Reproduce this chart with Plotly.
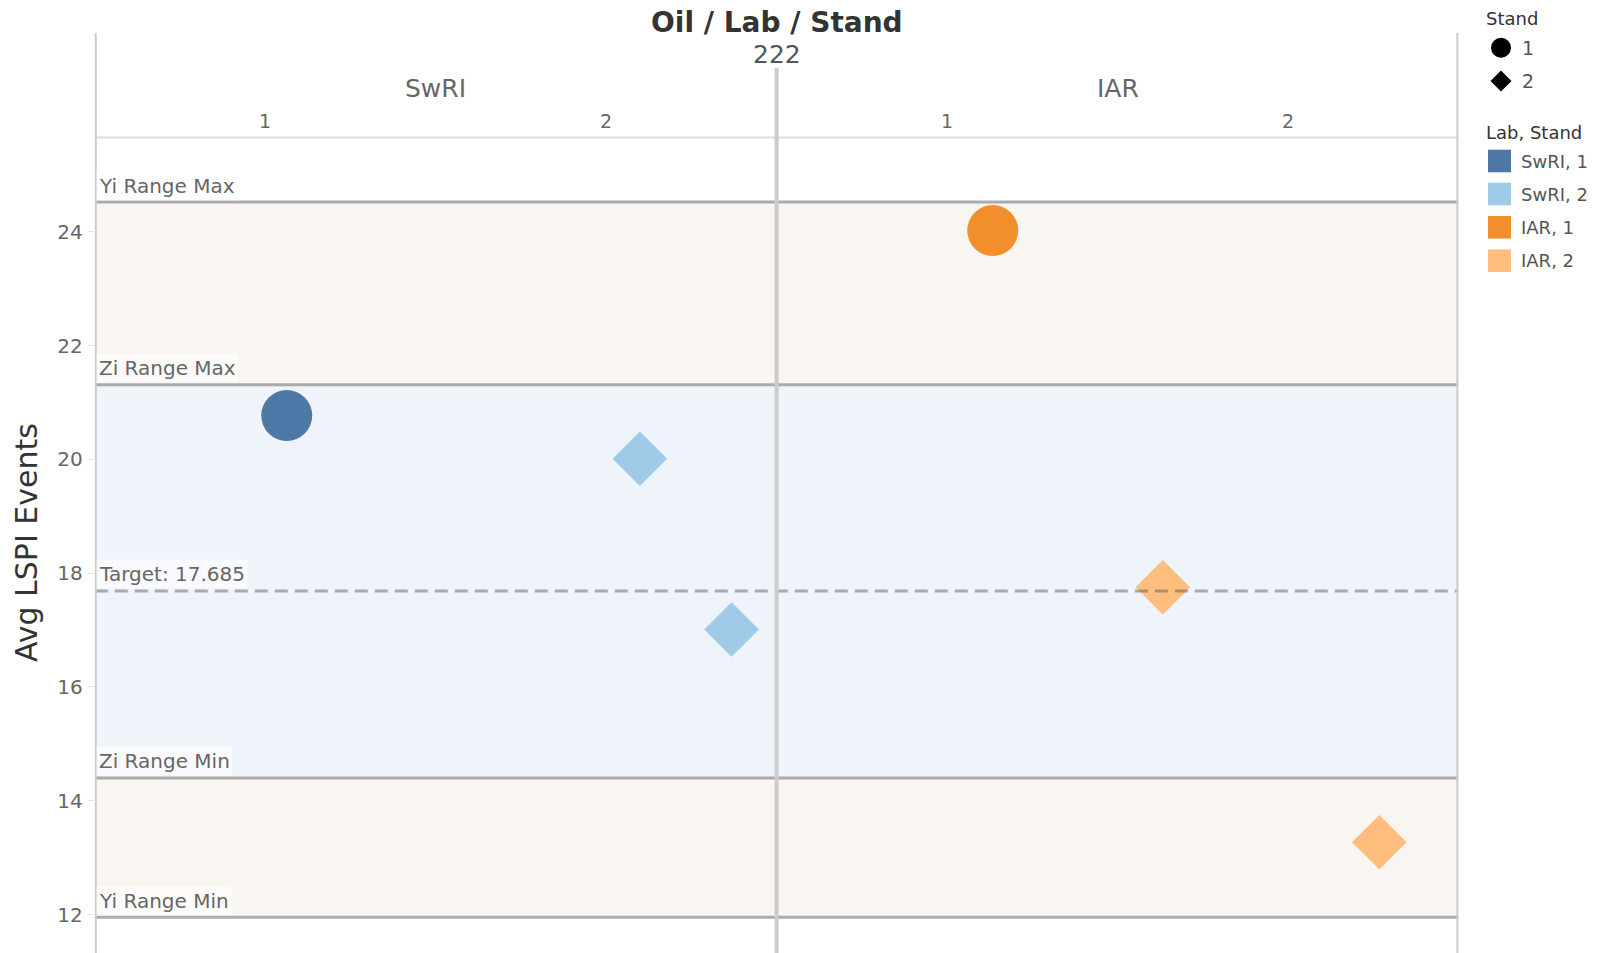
import plotly.graph_objects as go

W, H = 1598, 953
FONT = "DejaVu Sans"

# ---------------- data ----------------
labs = ["SwRI", "IAR"]
stands = ["1", "2"]

obs_lab = ["SwRI", "SwRI", "SwRI", "IAR", "IAR", "IAR"]
obs_stand = ["1", "2", "2", "1", "2", "2"]
obs_pos = [0.563, 0.599, 0.868, 0.634, 0.133, 0.768]   # position inside the stand column
avg_lspi = [20.77, 20.01, 17.01, 24.02, 17.75, 13.27]

target = 17.685
zi_max, zi_min = 21.31, 14.40
yi_max, yi_min = 24.52, 11.95

y_ticks = [12, 14, 16, 18, 20, 22, 24]

# ---------------- styles ----------------
colors = {("SwRI", "1"): "#4e79a7", ("SwRI", "2"): "#a0cbe8",
          ("IAR", "1"): "#f28e2b", ("IAR", "2"): "#ffbe7d"}
symbols = {"1": "circle", "2": "diamond"}
msize = {"1": 51, "2": 42}


def px(x):
    return x / W


def py(y):
    return 1 - y / H


x_left, x_right = 94.8, 1458.4
y_top_plot = 137.6

fig = go.Figure()

for lab in labs:
    for st in stands:
        col = labs.index(lab) * 2 + stands.index(st)
        xs, ys = [], []
        for l, s, p, v in zip(obs_lab, obs_stand, obs_pos, avg_lspi):
            if l == lab and s == st:
                xs.append(col + p)
                ys.append(v)
        fig.add_trace(go.Scatter(
            x=xs, y=ys, mode="markers", name=f"{lab}, {st}",
            marker=dict(symbol=symbols[st], size=msize[st], color=colors[(lab, st)],
                        line=dict(width=0)),
            showlegend=False, hoverinfo="x+y"))

shapes = []
# bands
shapes.append(dict(type="rect", xref="x", yref="y", x0=0, x1=4, y0=yi_min, y1=yi_max,
                   fillcolor="#f9f5f1", line=dict(width=0), layer="below"))
shapes.append(dict(type="rect", xref="x", yref="y", x0=0, x1=4, y0=zi_min, y1=zi_max,
                   fillcolor="#eff3fa", line=dict(width=0), layer="below"))
for v in [yi_max, zi_max, zi_min, yi_min]:
    shapes.append(dict(type="line", xref="x", yref="y", x0=0, x1=4, y0=v, y1=v,
                       line=dict(color="#ababab", width=3), layer="below"))
# target line
shapes.append(dict(type="line", xref="x", yref="y", x0=0, x1=4, y0=target, y1=target,
                   line=dict(color="rgba(80,80,80,0.45)", width=3, dash="13px,7px"), layer="above"))
# header line
shapes.append(dict(type="line", xref="x", yref="paper", x0=0, x1=4, y0=py(y_top_plot), y1=py(y_top_plot),
                   line=dict(color="#dcdcdc", width=2), layer="above"))
# pane dividers
for xv, ytop in [(0, 33), (2, 68), (4, 33)]:
    shapes.append(dict(type="line", xref="x", yref="paper", x0=xv, x1=xv, y0=py(ytop), y1=0,
                       line=dict(color="#cccccc", width=4), layer="above"))

# ---- legend (custom) ----
lx = 1501
shapes.append(dict(type="circle", xref="paper", yref="paper",
                   x0=px(lx - 10), x1=px(lx + 10), y0=py(47.7 + 10), y1=py(47.7 - 10),
                   fillcolor="black", line=dict(width=0)))
dy = 81
shapes.append(dict(type="path", xref="paper", yref="paper",
                   path=f"M {px(lx-10.5)},{py(dy)} L {px(lx)},{py(dy-10.5)} L {px(lx+10.5)},{py(dy)} L {px(lx)},{py(dy+10.5)} Z",
                   fillcolor="black", line=dict(width=0)))
leg_rows = [161, 194, 227.3, 260.7]
leg_keys = [(l, s) for l in labs for s in stands]
for (l, s), yc in zip(leg_keys, leg_rows):
    shapes.append(dict(type="rect", xref="paper", yref="paper",
                       x0=px(1488), x1=px(1511), y0=py(yc + 11.3), y1=py(yc - 11.3),
                       fillcolor=colors[(l, s)], line=dict(width=0)))

annotations = []
# title
annotations.append(dict(text="<b>Oil / Lab / Stand</b>", xref="paper", yref="paper",
                        x=px(776.6), y=py(22.4), xanchor="center", yanchor="middle", showarrow=False,
                        font=dict(family=FONT, size=28, color="#333333")))
annotations.append(dict(text="222", xref="paper", yref="paper",
                        x=px(776.6), y=py(55), xanchor="center", yanchor="middle", showarrow=False,
                        font=dict(family=FONT, size=25, color="#555555")))
for i, lab in enumerate(labs):
    annotations.append(dict(text=lab, xref="x", yref="paper", x=i * 2 + 1, y=py(88.5),
                            xanchor="center", yanchor="middle", showarrow=False,
                            font=dict(family=FONT, size=25, color="#666666")))
    for j, st in enumerate(stands):
        annotations.append(dict(text=st, xref="x", yref="paper", x=i * 2 + j + 0.5, y=py(121),
                                xanchor="center", yanchor="middle", showarrow=False,
                                font=dict(family=FONT, size=19, color="#666666")))
# range labels
for txt, v in [("Yi Range Max", yi_max), ("Zi Range Max", zi_max), (f"Target: {target}", target),
               ("Zi Range Min", zi_min), ("Yi Range Min", yi_min)]:
    annotations.append(dict(text=txt, xref="x", yref="y", x=0, y=v, xanchor="left", yanchor="bottom",
                            xshift=1.5, yshift=1.5 if "Target" not in txt else 2.5, showarrow=False,
                            bgcolor="rgba(255,255,255,0.55)", borderpad=2,
                            font=dict(family=FONT, size=20, color="#666666")))
# y axis title
annotations.append(dict(text="Avg LSPI Events", xref="paper", yref="paper", x=px(26), y=py(543),
                        textangle=-90, xanchor="center", yanchor="middle", showarrow=False,
                        font=dict(family=FONT, size=30, color="#333333")))
# legend texts
annotations.append(dict(text="Stand", xref="paper", yref="paper", x=px(1484), y=py(18.3),
                        xanchor="left", yanchor="middle", showarrow=False,
                        font=dict(family=FONT, size=18, color="#333333")))
for s, yc in zip(stands, [47.7, 81]):
    annotations.append(dict(text=s, xref="paper", yref="paper", x=px(1520), y=py(yc),
                            xanchor="left", yanchor="middle", showarrow=False,
                            font=dict(family=FONT, size=19, color="#555555")))
annotations.append(dict(text="Lab, Stand", xref="paper", yref="paper", x=px(1484), y=py(132.3),
                        xanchor="left", yanchor="middle", showarrow=False,
                        font=dict(family=FONT, size=18, color="#333333")))
for (l, s), yc in zip(leg_keys, leg_rows):
    annotations.append(dict(text=f"{l}, {s}", xref="paper", yref="paper", x=px(1518.5), y=py(yc),
                            xanchor="left", yanchor="middle", showarrow=False,
                            font=dict(family=FONT, size=18, color="#555555")))

y_lo = 12 - (953 - 914.5) / 56.9
y_hi = 12 + (914.5 - y_top_plot) / 56.9

fig.update_layout(
    width=W, height=H, margin=dict(l=0, r=0, t=0, b=0),
    paper_bgcolor="white", plot_bgcolor="white",
    showlegend=False,
    shapes=shapes, annotations=annotations,
    xaxis=dict(domain=[px(x_left), px(x_right)], range=[0, 4], visible=False, fixedrange=True),
    yaxis=dict(domain=[0, py(y_top_plot)], range=[y_lo, y_hi], tickvals=y_ticks,
               ticks="outside", ticklen=6, tickwidth=1, tickcolor="#e4e4e4",
               ticklabelstandoff=1,
               showgrid=False, zeroline=False, showline=False,
               tickfont=dict(family=FONT, size=20, color="#666666")),
    font=dict(family=FONT),
)

fig.write_html("out.html", config={"displayModeBar": False},
               post_script="document.body.style.margin='0';document.body.style.overflow='hidden';")
